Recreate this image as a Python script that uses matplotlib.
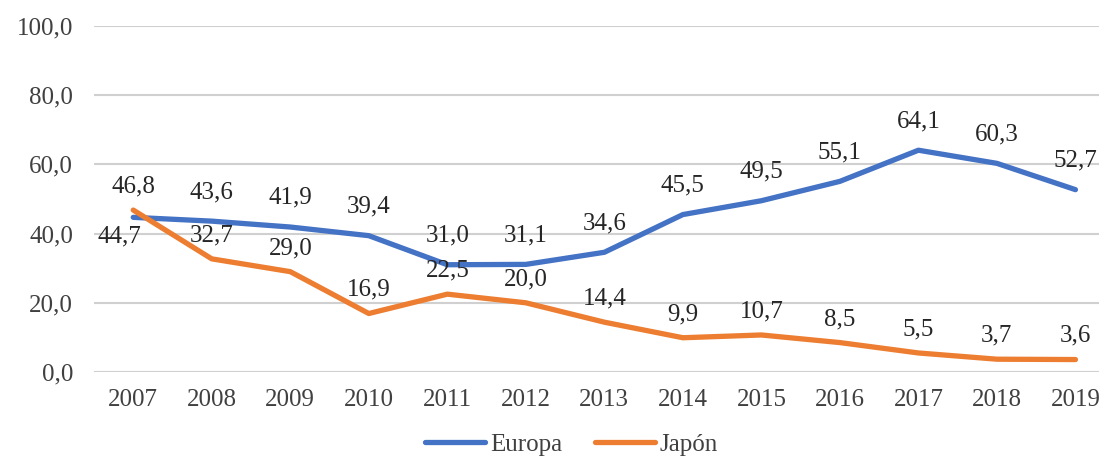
import matplotlib.pyplot as plt

YEARS = ["2007", "2008", "2009", "2010", "2011", "2012", "2013",
         "2014", "2015", "2016", "2017", "2018", "2019"]
EUROPA = [44.7, 43.6, 41.9, 39.4, 31.0, 31.1, 34.6, 45.5, 49.5, 55.1, 64.1, 60.3, 52.7]
JAPON = [46.8, 32.7, 29.0, 16.9, 22.5, 20.0, 14.4, 9.9, 10.7, 8.5, 5.5, 3.7, 3.6]

TEXT_COLOR = "#404040"
FONT = ["Liberation Serif", "DejaVu Serif"]


def fmt(v):
    return f"{v:.1f}".replace(".", ",")


plt.rcParams["font.family"] = FONT

fig = plt.figure(figsize=(10.99, 4.58), dpi=100)
ax = fig.add_axes([94 / 1099, 86 / 458, 1005 / 1099, 346 / 458])

x = list(range(len(YEARS)))
ax.plot(x, EUROPA, color="#4472C4", lw=3.8, solid_capstyle="round", label="Europa")
ax.plot(x, JAPON, color="#ED7D31", lw=3.8, solid_capstyle="round", label="Japón")

for i, v in enumerate(EUROPA):
    dx, dy = (-10, -14) if i == 0 else (0, 21)
    ax.annotate(fmt(v), (i, v), xytext=(dx, dy), textcoords="offset points",
                ha="center", va="center", fontsize=18, color="#262626")
for i, v in enumerate(JAPON):
    ax.annotate(fmt(v), (i, v), xytext=(0, 17), textcoords="offset points",
                ha="center", va="center", fontsize=18, color="#262626")

ax.set_xlim(-0.5, 12.3)
ax.set_ylim(0, 100)
ax.set_yticks([0, 20, 40, 60, 80, 100])
ax.set_yticklabels([fmt(t) for t in [0, 20, 40, 60, 80, 100]])
ax.set_xticks(x)
ax.set_xticklabels(YEARS)
ax.tick_params(axis="both", length=0, labelsize=18, colors=TEXT_COLOR)
ax.tick_params(axis="y", pad=15)
ax.tick_params(axis="x", pad=12)
ax.grid(axis="y", color="#d0d0d0", lw=1.5)
ax.set_axisbelow(True)
for s in ax.spines.values():
    s.set_visible(False)

fig.legend(loc="lower center", bbox_to_anchor=(0.52, -0.045), ncol=2, frameon=False,
           fontsize=18, handlelength=2.4, columnspacing=1.3, handletextpad=0.2,
           labelcolor=TEXT_COLOR)

fig.savefig("out.png", dpi=100)
